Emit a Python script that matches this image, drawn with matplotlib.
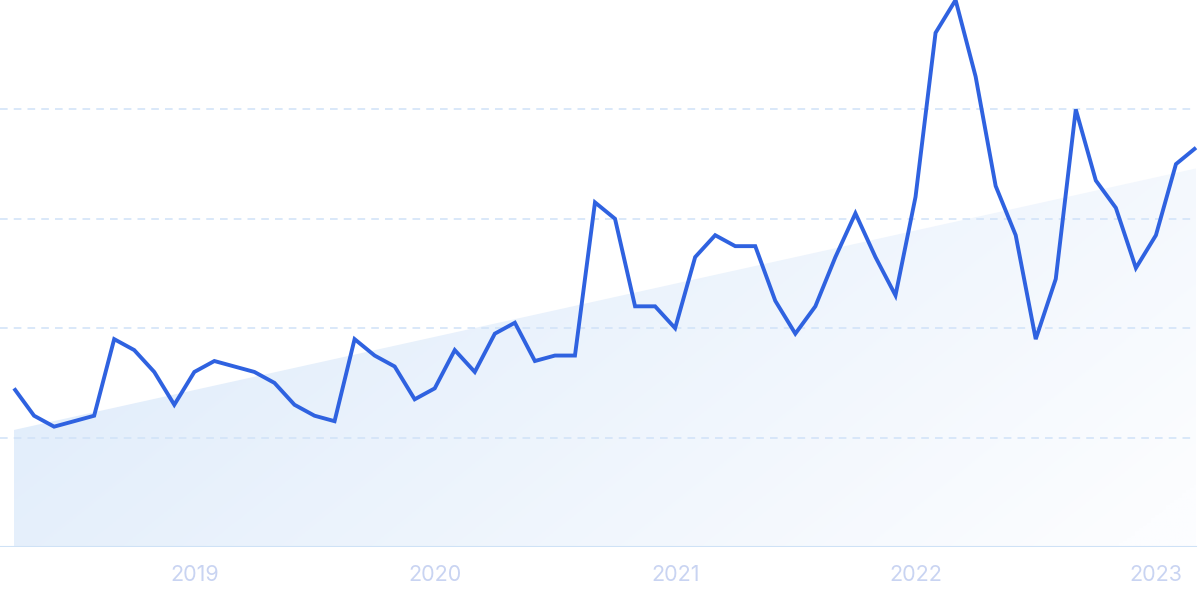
import numpy as np
import matplotlib.pyplot as plt
from matplotlib.patches import Polygon

# monthly interest, Apr 2018 .. Mar 2023
months = np.arange(60)
values = [29, 24, 22, 23, 24, 38, 36, 32, 26, 32, 34, 33,
          32, 30, 26, 24, 23, 38, 35, 33, 27, 29, 36, 32,
          39, 41, 34, 35, 35, 63, 60, 44, 44, 40, 53, 57,
          55, 55, 45, 39, 44, 53, 61, 53, 46, 64, 94, 100,
          86, 66, 57, 38, 49, 80, 67, 62, 51, 57, 70, 73]
trend = [21.4, 69.2]  # trend line value at first and last month
year_ticks = [9, 21, 33, 45, 57]
year_labels = ['2019', '2020', '2021', '2022', '2023']
grid_vals = [20, 40, 60, 80]

fig = plt.figure(figsize=(12, 5.99), dpi=100)
ax = fig.add_axes([0, 52 / 599, 1, 547 / 599])
ax.set_xlim(-0.70, 59.2)
ax.set_ylim(0, 100)

# gradient filled area under the trend line
x0, x1 = months[0], months[-1]
grad_x = np.linspace(0, 1, 300)
grad_y = np.linspace(0, 1, 150)
gx, gy = np.meshgrid(grad_x, grad_y)
t = np.clip(0.75 * gx + 0.3 * (1 - gy), 0, 1)
c0 = np.array([220, 234, 250]) / 255
c1 = np.array([252, 253, 255]) / 255
img = c0[None, None, :] * (1 - t[..., None]) + c1[None, None, :] * t[..., None]
im = ax.imshow(img, extent=[x0, x1, 0, max(trend)], origin='lower',
               aspect='auto', zorder=1)
poly = Polygon([[x0, 0], [x0, trend[0]], [x1, trend[1]], [x1, 0]],
               closed=True, facecolor='none', edgecolor='none')
ax.add_patch(poly)
im.set_clip_path(poly)

for g in grid_vals:
    ax.axhline(g, xmax=0.997, color='#d0e2f8', lw=1.1, dashes=(5, 4), zorder=2)
ax.axhline(0, xmax=0.997, color='#cfe2f6', lw=1.5, zorder=2)

ax.plot(months, values, color='#2f62e0', lw=2.8, zorder=3,
        solid_joinstyle='miter', solid_capstyle='butt')

ax.set_xticks(year_ticks)
ax.set_xticklabels(year_labels, fontsize=15.5, color='#c9d4f2', family='Inter')
ax.tick_params(axis='x', length=0, pad=13)
ax.set_yticks([])
for s in ax.spines.values():
    s.set_visible(False)

fig.savefig('out.png', dpi=100, facecolor='white')
